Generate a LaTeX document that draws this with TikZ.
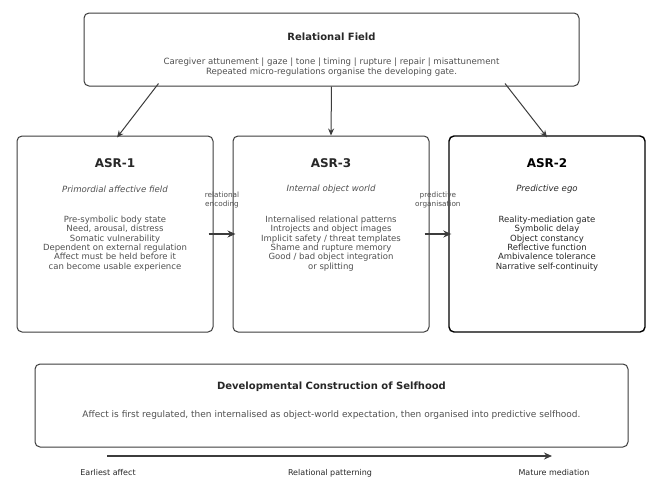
\documentclass[tikz,border=0pt]{standalone}
\usepackage{fontspec}
\setmainfont{DejaVu Sans}
\usetikzlibrary{arrows.meta,positioning}
\definecolor{Frame}{RGB}{60, 60, 60}
\definecolor{Ink}{RGB}{40, 40, 40}
\definecolor{Soft}{RGB}{80, 80, 80}

\begin{document}
\begin{tikzpicture}[x=1pt, y=-1pt,
    panel/.style={draw=Frame, line width=1pt, rounded corners=5pt, inner sep=0pt},
    heading/.style={font=\bfseries\fontsize{10}{12}\selectfont, text=Ink},
    asrname/.style={font=\bfseries\fontsize{12}{14}\selectfont, text=Ink},
    subline/.style={font=\itshape\fontsize{8.6}{9.5}\selectfont, text=Soft},
    bodytext/.style={font=\fontsize{8.5}{9.3}\selectfont, text=Soft, align=center, inner sep=0pt},
    tag/.style={font=\fontsize{7.3}{8.8}\selectfont, text=Soft, align=center, inner sep=0pt},
    flow/.style={draw=Frame, line width=1pt, -{Stealth[length=7pt, width=6pt]}},
    thickflow/.style={draw=Frame, line width=1.5pt, -{Stealth[length=8pt, width=7pt]}}
  ]
    %% Background
    \useasboundingbox[fill=white] (0,0) rectangle (648,477);

    %% Relational field
    \node[panel, minimum width=495pt, minimum height=73pt] (field) at (331.5,49.5) {};
    \node[heading] (fieldtitle) at (331.5,37) {Relational Field};
    \node[bodytext, font=\fontsize{8.6}{9.5}\selectfont] (fieldtext) at (331.5,67)
      {Caregiver attunement | gaze | tone | timing | rupture | repair | misattunement\\
       Repeated micro-regulations organise the developing gate.};

    %% The three ASR panels
    \node[panel, minimum width=196pt, minimum height=196pt] (asr1) at (115,234) {};
    \node[panel, minimum width=196pt, minimum height=196pt] (asr3) at (331,234) {};
    \node[panel, draw=black, line width=1.4pt, minimum width=196pt, minimum height=196pt] (asr2) at (547,234) {};

    \node[asrname] (asr1title) at (115,163) {ASR-1};
    \node[subline] (asr1sub) at (115,189) {Primordial affective field};
    \node[bodytext, anchor=north] (asr1text) at (115,216)
      {Pre-symbolic body state\\ Need, arousal, distress\\ Somatic vulnerability\\
       Dependent on external regulation\\ Affect must be held before it\\
       can become usable experience};

    \node[asrname] (asr3title) at (331,163) {ASR-3};
    \node[subline] (asr3sub) at (331,189) {Internal object world};
    \node[bodytext, anchor=north] (asr3text) at (331,216)
      {Internalised relational patterns\\ Introjects and object images\\
       Implicit safety / threat templates\\ Shame and rupture memory\\
       Good / bad object integration\\ or splitting};

    \node[asrname, text=black] (asr2title) at (547,163) {ASR-2};
    \node[subline, text=Ink] (asr2sub) at (547,189) {Predictive ego};
    \node[bodytext, text=Ink, anchor=north] (asr2text) at (547,216)
      {Reality-mediation gate\\ Symbolic delay\\ Object constancy\\
       Reflective function\\ Ambivalence tolerance\\ Narrative self-continuity};

    %% Field feeds each panel
    \draw[flow] ([xshift=-173pt, yshift=3pt]field.south) -- ([xshift=2pt, yshift=-2pt]asr1.north);
    \draw[flow] (field.south) -- (asr3.north);
    \draw[flow] ([xshift=173.5pt, yshift=3pt]field.south) -- ([yshift=-2pt]asr2.north);

    %% Panel to panel
    \draw[thickflow] ([xshift=-5pt]asr1.east) -- ([xshift=3pt]asr3.west)
      node[tag, midway, above=25pt] {relational\\encoding};
    \draw[thickflow] ([xshift=-5pt]asr3.east) -- ([xshift=3pt]asr2.west)
      node[tag, midway, above=25pt] {predictive\\organisation};

    %% Developmental construction
    \node[panel, minimum width=593pt, minimum height=83pt] (selfhood) at (331.5,405.5) {};
    \node[heading] (selfhoodtitle) at (331.5,387) {Developmental Construction of Selfhood};
    \node[bodytext, font=\fontsize{9}{11}\selectfont] (selfhoodtext) at (331.5,415)
      {Affect is first regulated, then internalised as object-world expectation, then organised into predictive selfhood.};

    \coordinate (early) at (107,456);
    \coordinate (mature) at (552,456);
    \draw[thickflow] (early) -- (mature);
    \node[tag, text=Ink, font=\fontsize{8}{9}\selectfont] (earlylabel) at (108,473) {Earliest affect};
    \node[tag, text=Ink, font=\fontsize{8}{9}\selectfont] (midlabel) at (330,473) {Relational patterning};
    \node[tag, text=Ink, font=\fontsize{8}{9}\selectfont] (maturelabel) at (554,473) {Mature mediation};
\end{tikzpicture}
\end{document}
